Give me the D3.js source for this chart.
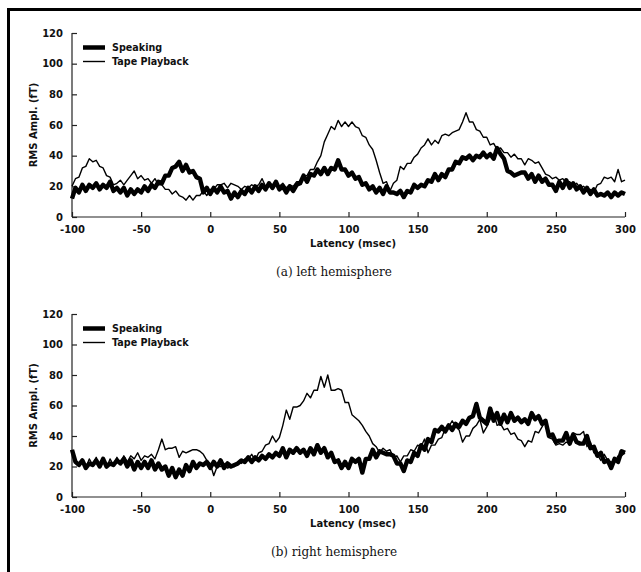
<!DOCTYPE html>
<html>
<head>
<meta charset="utf-8">
<script src="https://cdn.jsdelivr.net/npm/d3@7"></script>
<style>
  body { margin: 0; background: #fff; }
  .tick-label, .axis-title, .legend-text { font-family: "DejaVu Sans", sans-serif; font-weight: bold; fill: #111; }
  .caption { font-family: "DejaVu Serif", serif; fill: #111; }
</style>
</head>
<body>
<div class="content"></div>
<script>
// Sample times (msec), one value every 2.5 msec
const latency = d3.range(-100, 300.01, 2.5);

const xTicks = [-100, -50, 0, 50, 100, 150, 200, 250, 300];
const yTicks = [0, 20, 40, 60, 80, 100, 120];
const seriesNames = ["Speaking", "Tape Playback"];

// (a) left hemisphere
const leftSpeaking = [
  12, 19, 16, 21, 17, 21, 19, 22, 18, 21,
  19, 23, 17, 19, 16, 19, 14, 18, 15, 18,
  16, 20, 17, 21, 19, 23, 22, 27, 27, 32,
  33, 36, 30, 34, 29, 30, 26, 25, 16, 19,
  15, 19, 16, 20, 16, 17, 12, 16, 13, 17,
  15, 19, 16, 20, 17, 21, 18, 22, 19, 23,
  18, 20, 16, 20, 17, 21, 22, 27, 23, 28,
  27, 31, 28, 32, 28, 32, 31, 37, 31, 31,
  27, 29, 25, 26, 21, 22, 18, 20, 16, 19,
  15, 20, 16, 16, 15, 17, 13, 17, 16, 21,
  19, 21, 20, 24, 23, 28, 24, 28, 26, 31,
  31, 36, 35, 39, 38, 40, 37, 40, 39, 42,
  39, 41, 38, 45, 41, 38, 30, 29, 27, 28,
  29, 29, 25, 28, 23, 27, 23, 25, 21, 21,
  17, 23, 19, 24, 19, 22, 18, 20, 16, 19,
  15, 18, 14, 15, 14, 16, 13, 16, 14, 16,
  15
];
const leftPlayback = [
  20, 25, 26, 32, 33, 38, 36, 37, 33, 32,
  27, 26, 21, 22, 24, 21, 24, 27, 30, 25,
  27, 24, 25, 22, 25, 21, 21, 18, 18, 15,
  17, 14, 13, 11, 14, 11, 14, 14, 17, 14,
  18, 18, 21, 21, 22, 19, 22, 21, 20, 18,
  20, 19, 21, 20, 21, 25, 20, 21, 20, 21,
  20, 22, 19, 21, 20, 23, 23, 27, 27, 31,
  31, 36, 40, 49, 54, 59, 57, 63, 59, 62,
  59, 62, 59, 58, 53, 52, 47, 44, 37, 29,
  22, 23, 17, 22, 24, 33, 31, 35, 35, 39,
  41, 45, 47, 51, 47, 50, 48, 53, 54, 53,
  55, 56, 57, 62, 68, 62, 62, 57, 56, 52,
  52, 47, 48, 44, 45, 42, 42, 39, 41, 38,
  38, 34, 38, 37, 35, 36, 32, 28, 27, 25,
  26, 24, 25, 22, 23, 20, 22, 19, 20, 18,
  18, 16, 21, 22, 26, 25, 26, 23, 31, 23,
  24
];

// (b) right hemisphere
const rightSpeaking = [
  31, 23, 21, 24, 19, 22, 21, 24, 20, 25,
  20, 22, 21, 24, 22, 25, 20, 24, 18, 23,
  19, 23, 19, 24, 18, 22, 18, 20, 14, 19,
  13, 18, 14, 21, 17, 23, 19, 22, 21, 23,
  19, 23, 20, 24, 19, 22, 20, 21, 22, 24,
  23, 26, 23, 26, 24, 27, 25, 28, 26, 29,
  27, 32, 26, 31, 29, 32, 29, 31, 27, 32,
  28, 34, 29, 32, 26, 29, 23, 24, 19, 23,
  19, 25, 23, 25, 16, 25, 25, 31, 26, 30,
  29, 28, 28, 27, 22, 22, 17, 24, 23, 29,
  27, 34, 31, 38, 36, 44, 43, 46, 43, 47,
  44, 48, 46, 50, 48, 52, 53, 61, 52, 50,
  48, 58, 50, 55, 48, 54, 49, 55, 50, 52,
  49, 51, 48, 55, 51, 53, 48, 50, 40, 41,
  36, 37, 37, 42, 35, 41, 36, 35, 35, 40,
  32, 33, 27, 29, 23, 24, 19, 25, 23, 30,
  29
];
const rightPlayback = [
  29, 24, 22, 23, 19, 25, 21, 26, 20, 24,
  19, 25, 21, 26, 22, 27, 23, 27, 25, 29,
  24, 27, 26, 28, 25, 31, 38, 31, 32, 32,
  33, 26, 30, 29, 30, 31, 31, 30, 28, 24,
  22, 14, 20, 20, 22, 19, 20, 20, 23, 22,
  25, 25, 28, 24, 29, 30, 34, 35, 40, 36,
  39, 47, 57, 51, 59, 59, 60, 63, 68, 65,
  70, 70, 79, 72, 80, 70, 70, 71, 70, 62,
  62, 54, 52, 50, 47, 43, 40, 35, 33, 29,
  32, 30, 31, 26, 27, 23, 27, 27, 31, 30,
  34, 33, 38, 29, 34, 34, 38, 39, 45, 46,
  50, 46, 44, 36, 40, 40, 45, 47, 51, 42,
  46, 51, 55, 47, 48, 44, 45, 41, 42, 38,
  37, 33, 37, 36, 43, 42, 46, 50, 39, 38,
  34, 35, 34, 36, 35, 42, 41, 41, 43, 33,
  36, 29, 28, 24, 28, 24, 23, 23, 27, 27,
  29
];

const panels = [
  { top: 33, bottom: 217, caption: "(a) left hemisphere", speaking: leftSpeaking, playback: leftPlayback },
  { top: 314, bottom: 497, caption: "(b) right hemisphere", speaking: rightSpeaking, playback: rightPlayback },
];

const W = 641, H = 572;
const plotLeft = 72, plotRight = 625;

const svg = d3
  .select(".content")
  .append("svg")
  .attr("width", W)
  .attr("height", H);

// Page frame (only top and left edges show)
svg
  .append("path")
  .attr("d", `M8.5,${H + 5} V9.5 H${W + 5}`)
  .attr("fill", "none")
  .attr("stroke", "#000")
  .attr("stroke-width", 3);

const xScale = d3.scaleLinear().domain([-100, 300]).range([plotLeft, plotRight]);

const drawPanel = (p) => {
  const yScale = d3.scaleLinear().domain([0, 120]).range([p.bottom, p.top]);
  const g = svg.append("g");

  // Axes, ticks pointing inward
  const xAxis = d3.axisBottom(xScale).tickValues(xTicks).tickSize(-5).tickPadding(7).tickFormat((d) => d);
  const yAxis = d3.axisLeft(yScale).tickValues(yTicks).tickSize(-5).tickPadding(9).tickFormat((d) => d);

  const gx = g.append("g").attr("transform", `translate(0,${p.bottom})`).call(xAxis);
  const gy = g.append("g").attr("transform", `translate(${plotLeft},0)`).call(yAxis);

  [gx, gy].forEach((ax) => {
    ax.select(".domain").attr("stroke", "#222").attr("stroke-width", 1.2);
    ax.selectAll(".tick line").attr("stroke", "#222").attr("stroke-width", 1.2);
    ax.selectAll(".tick text")
      .attr("class", "tick-label")
      .style("font-size", "10px")
      .attr("fill", "#111");
  });
  gx.selectAll(".tick text").attr("dy", "0.9em");
  gx.select(".domain").attr("d", `M${plotLeft},0H${plotRight}`);
  gy.select(".domain").attr("d", `M0,${p.bottom}V${p.top}`);

  // Lines
  const line = d3
    .line()
    .x((d, i) => xScale(latency[i]))
    .y((d) => yScale(d));

  g.append("path")
    .datum(p.speaking)
    .attr("d", line)
    .attr("fill", "none")
    .attr("stroke", "#000")
    .attr("stroke-width", 4.4)
    .attr("stroke-linejoin", "round");

  g.append("path")
    .datum(p.playback)
    .attr("d", line)
    .attr("fill", "none")
    .attr("stroke", "#000")
    .attr("stroke-width", 1.4)
    .attr("stroke-linejoin", "round");

  // Legend
  const legend = g.append("g").attr("transform", `translate(83,${p.top + 14.5})`);
  legend
    .selectAll("line")
    .data(seriesNames)
    .join("line")
    .attr("x1", 0)
    .attr("x2", 22)
    .attr("y1", (d, i) => i * 14)
    .attr("y2", (d, i) => i * 14)
    .attr("stroke", "#000")
    .attr("stroke-width", (d, i) => (i === 0 ? 4.5 : 1.4));
  legend
    .selectAll("text")
    .data(seriesNames)
    .join("text")
    .attr("class", "legend-text")
    .attr("x", 29)
    .attr("y", (d, i) => i * 14)
    .attr("dy", "0.35em")
    .style("font-size", "9.6px")
    .text((d) => d);

  // Axis titles
  g.append("text")
    .attr("class", "axis-title")
    .attr("x", 353)
    .attr("y", p.bottom + 30)
    .attr("text-anchor", "middle")
    .style("font-size", "10px")
    .text("Latency (msec)");

  g.append("text")
    .attr("class", "axis-title")
    .attr("transform", `translate(37,${(p.top + p.bottom) / 2}) rotate(-90)`)
    .attr("text-anchor", "middle")
    .style("font-size", "10px")
    .text("RMS Ampl. (fT)");

  // Caption
  g.append("text")
    .attr("class", "caption")
    .attr("x", 334)
    .attr("y", p.bottom + 59)
    .attr("text-anchor", "middle")
    .style("font-size", "12px")
    .text(p.caption);
};

panels.forEach(drawPanel);
</script>
</body>
</html>
